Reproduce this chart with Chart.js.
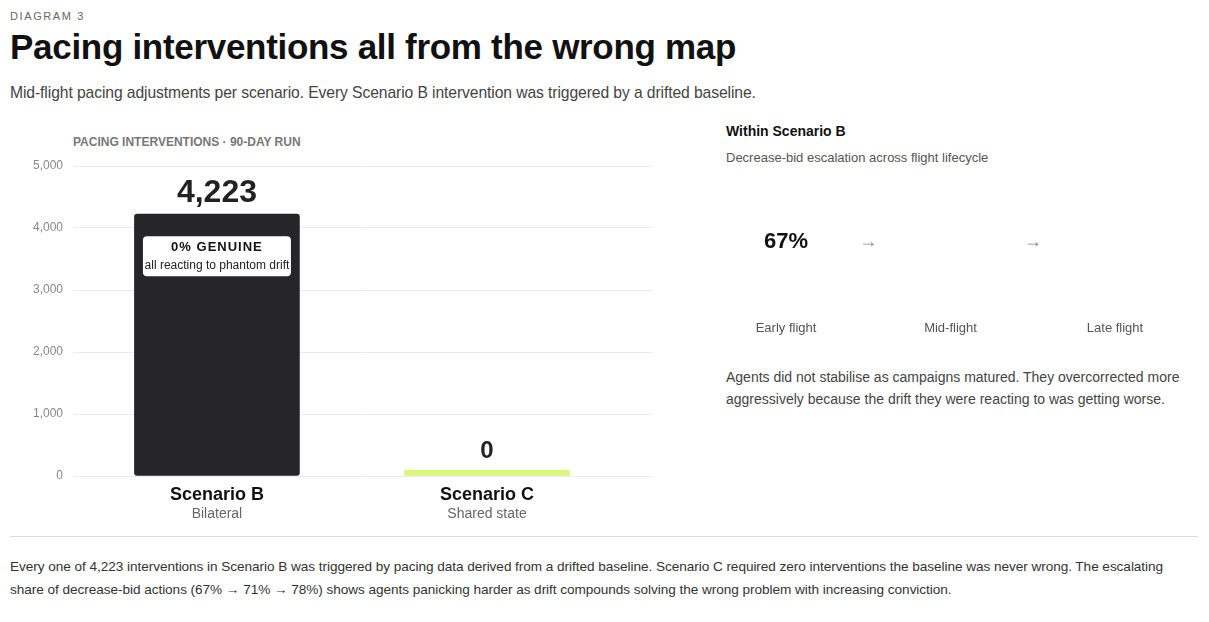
<!DOCTYPE html>
<html><head><meta charset="utf-8">
<script src="https://cdn.jsdelivr.net/npm/chart.js@4"></script>
<style>
body{margin:0;width:1209px;height:622px;background:#fff;font-family:"Liberation Sans",Arial,sans-serif;position:relative;overflow:hidden;color:#111}
.a{position:absolute;white-space:nowrap}
</style></head><body>
<div class="a" style="left:10px;top:10px;font-size:11px;letter-spacing:1.6px;color:#666">DIAGRAM 3</div>
<div class="a" style="left:10px;top:27px;font-size:35px;font-weight:bold;color:#111;letter-spacing:-0.3px">Pacing interventions all from the wrong map</div>
<div class="a" style="left:10px;top:84px;font-size:15.7px;color:#444;letter-spacing:-0.1px">Mid-flight pacing adjustments per scenario. Every Scenario B intervention was triggered by a drifted baseline.</div>
<div class="a" style="left:73px;top:135px;font-size:12px;font-weight:bold;color:#777">PACING INTERVENTIONS · 90-DAY RUN</div>
<div class="a" style="left:0;top:130px;width:660px;height:400px"><canvas id="c1"></canvas></div>
<div class="a" style="left:726px;top:123px;font-size:14px;font-weight:bold;color:#111">Within Scenario B</div>
<div class="a" style="left:726px;top:150px;font-size:13px;color:#555">Decrease-bid escalation across flight lifecycle</div>
<div class="a" style="left:725px;top:170px;width:452px;height:175px"><canvas id="c2"></canvas></div>
<div class="a" style="left:726px;top:366px;font-size:14px;line-height:22px;color:#444;white-space:normal;width:460px">Agents did not stabilise as campaigns matured. They overcorrected more aggressively because the drift they were reacting to was getting worse.</div>
<div class="a" style="left:10px;top:536px;width:1188px;height:1px;background:#ddd"></div>
<div class="a" style="left:10px;top:555px;font-size:13.6px;line-height:23px;color:#333;white-space:normal;width:1180px;letter-spacing:-0.05px">Every one of 4,223 interventions in Scenario B was triggered by pacing data derived from a drifted baseline. Scenario C required zero interventions the baseline was never wrong. The escalating share of decrease-bid actions (67% → 71% → 78%) shows agents panicking harder as drift compounds solving the wrong problem with increasing conviction.</div>
<script>
const scenarios = ["Scenario B", "Scenario C"];
const scenarioSubs = ["Bilateral", "Shared state"];
const interventions = [4223, 0];
const yTicks = [0, 1000, 2000, 3000, 4000, 5000];
const phases = ["Early flight", "Mid-flight", "Late flight"];
const decreaseBidPct = [67, 71, 78];

const F = '"Liberation Sans", Arial, sans-serif';
const barPos = [0, 1];
const barLabels = {
  id: 'barLabels',
  afterDatasetsDraw(ch) {
    const c = ch.ctx, xs = ch.scales.x, ys = ch.scales.y;
    const meta = ch.getDatasetMeta(0);
    c.save(); c.textAlign = 'center';
    interventions.forEach((v, i) => {
      const x = xs.getPixelForValue(barPos[i]);
      const top = meta.data[i].y;
      c.fillStyle = '#222'; c.textBaseline = 'alphabetic';
      c.font = 'bold ' + (v > 0 ? 32 : 24) + 'px ' + F;
      c.fillText(v.toLocaleString('en-US'), x, top - (v > 0 ? 12 : 12));
      c.font = 'bold 18px ' + F; c.fillStyle = '#111';
      c.fillText(scenarios[i], x, ys.bottom + 24);
      c.font = '14px ' + F; c.fillStyle = '#666';
      c.fillText(scenarioSubs[i], x, ys.bottom + 42);
      if (v > 0) {
        const bw = 148, bh = 40, bx = x - bw / 2, by = top + 22;
        c.fillStyle = '#fff'; c.beginPath(); c.roundRect(bx, by, bw, bh, 4); c.fill();
        c.fillStyle = '#111'; c.font = 'bold 13px ' + F;
        c.save(); c.letterSpacing = '1px'; c.fillText('0% GENUINE', x, by + 15); c.restore();
        c.font = '12px ' + F; c.fillStyle = '#222';
        c.fillText('all reacting to phantom drift', x, by + 33);
      }
    });
    c.restore();
  }
};
new Chart(document.getElementById('c1'), {
  type: 'bar',
  data: { datasets: [{ data: interventions.map((v, i) => ({ x: barPos[i], y: v })),
    backgroundColor: ['#262628', '#d8f77c'], borderRadius: [3, 0], borderSkipped: false,
    barThickness: 165, minBarLength: 6 }] },
  options: {
    responsive: true, maintainAspectRatio: false, animation: false,
    layout: { padding: { top: 36, bottom: 54, right: 8 } },
    plugins: { legend: { display: false }, tooltip: { enabled: false } },
    scales: {
      x: { type: 'linear', min: -0.533, max: 1.611, offset: false, display: false },
      y: { min: 0, max: 5000, afterFit: s => { s.width = 73; },
        afterBuildTicks: s => { s.ticks = yTicks.map(v => ({ value: v })); },
        border: { display: false },
        grid: { color: '#ebebeb', drawTicks: false },
        ticks: { padding: 10, color: '#888', font: { size: 12, family: F },
          callback: v => v.toLocaleString('en-US') } }
    }
  },
  plugins: [barLabels]
});

const circleText = {
  id: 'circleText',
  afterDatasetsDraw(ch) {
    const c = ch.ctx, meta = ch.getDatasetMeta(0);
    c.save(); c.textAlign = 'center'; c.textBaseline = 'middle';
    meta.data.forEach((p, i) => {
      c.fillStyle = i === 0 ? '#111' : '#fff';
      c.font = 'bold 22px ' + F;
      c.fillText(decreaseBidPct[i] + '%', p.x, p.y);
      c.fillStyle = '#555'; c.font = '13px ' + F;
      c.fillText(phases[i], p.x, p.y + 86);
      if (i < meta.data.length - 1) {
        c.fillStyle = '#888'; c.font = '18px ' + F;
        c.fillText('→', (p.x + meta.data[i + 1].x) / 2, p.y);
      }
    });
    c.restore();
  }
};
new Chart(document.getElementById('c2'), {
  type: 'scatter',
  data: { datasets: [{ data: decreaseBidPct.map((v, i) => ({ x: i, y: 0 })),
    pointRadius: 61, pointHoverRadius: 61, pointBorderWidth: 0,
    pointBackgroundColor: ['#e3e3e3', '#262628', '#141414'],
    pointBorderColor: ['#e3e3e3', '#262628', '#141414'] }] },
  options: {
    responsive: true, maintainAspectRatio: false, animation: false,
    layout: { padding: { left: 61, right: 62, top: 72, bottom: 103 } },
    plugins: { legend: { display: false }, tooltip: { enabled: false } },
    scales: { x: { min: 0, max: 2, display: false }, y: { min: -1, max: 1, display: false } }
  },
  plugins: [circleText]
});
</script>
</body></html>
